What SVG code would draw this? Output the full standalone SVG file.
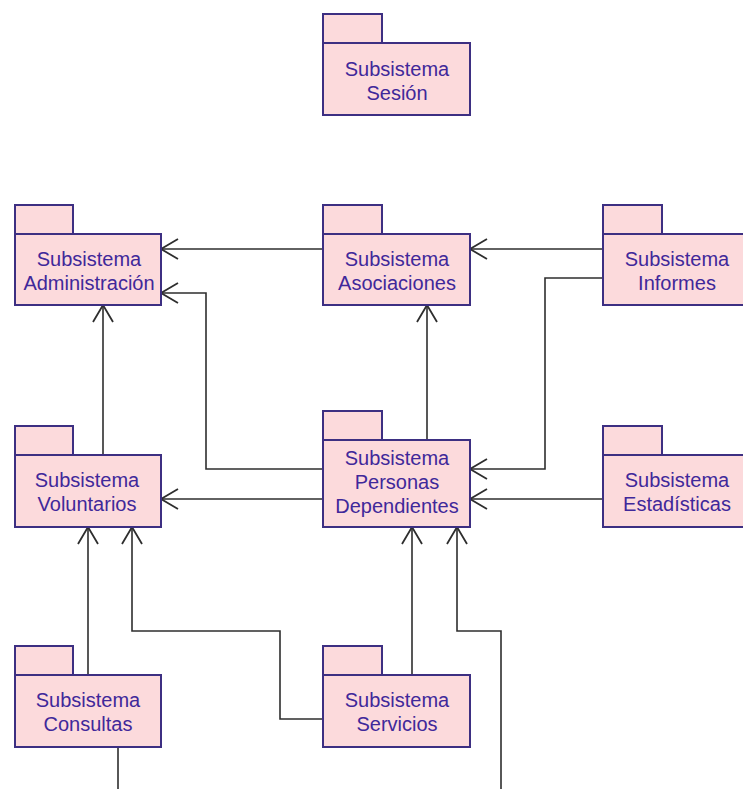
<svg xmlns="http://www.w3.org/2000/svg" width="743" height="789" viewBox="0 0 743 789">
  <style>
    .pkg rect { fill: #fcdadc; stroke: #3d2f82; stroke-width: 2; }
    .pkg text { font-family: "Liberation Sans", Arial, sans-serif; font-size: 20px; fill: #40289a; text-anchor: middle; }
    .conn path { fill: none; stroke: #2e2e2e; stroke-width: 1.6; marker-end: url(#open); }
  </style>
  <defs>
    <marker id="open" markerUnits="userSpaceOnUse" markerWidth="22" markerHeight="24" refX="0" refY="0" viewBox="-19 -12 22 24" orient="auto" overflow="visible">
      <path d="M-17,-10 L0,0 L-17,10" fill="none" stroke="#2e2e2e" stroke-width="1.8"/>
    </marker>
  </defs>
  <rect width="743" height="789" fill="#ffffff"/>

  <!-- dependency connectors -->
  <g id="connectors" class="conn">
    <path d="M323,249 H161"/>
    <path d="M323,469 H206 V293 H161"/>
    <path d="M603,249 H470"/>
    <path d="M603,278 H545 V469 H470"/>
    <path d="M427,440 V305"/>
    <path d="M103,455 V305"/>
    <path d="M323,499 H161"/>
    <path d="M603,499 H470"/>
    <path d="M88,675 V527"/>
    <path d="M323,719 H280 V631 H132 V527"/>
    <path d="M412,675 V527"/>
    <path d="M118,747 V830 H501 V631 H457 V527"/>
  </g>

  <!-- packages -->
  <g id="sesion" class="pkg">
    <rect x="323" y="14" width="59" height="29"/>
    <rect x="323" y="43" width="147" height="72"/>
    <text x="397" y="76">Subsistema</text>
    <text x="397" y="100">Sesión</text>
  </g>

  <g id="administracion" class="pkg">
    <rect x="15" y="205" width="58" height="29"/>
    <rect x="15" y="234" width="146" height="71"/>
    <text x="89" y="266">Subsistema</text>
    <text x="89" y="290">Administración</text>
  </g>

  <g id="asociaciones" class="pkg">
    <rect x="323" y="205" width="59" height="29"/>
    <rect x="323" y="234" width="147" height="71"/>
    <text x="397" y="266">Subsistema</text>
    <text x="397" y="290">Asociaciones</text>
  </g>

  <g id="informes" class="pkg">
    <rect x="603" y="205" width="59" height="29"/>
    <rect x="603" y="234" width="147" height="71"/>
    <text x="677" y="266">Subsistema</text>
    <text x="677" y="290">Informes</text>
  </g>

  <g id="voluntarios" class="pkg">
    <rect x="15" y="426" width="58" height="29"/>
    <rect x="15" y="455" width="146" height="72"/>
    <text x="87" y="487">Subsistema</text>
    <text x="87" y="511">Voluntarios</text>
  </g>

  <g id="personas-dependientes" class="pkg">
    <rect x="323" y="411" width="59" height="29"/>
    <rect x="323" y="440" width="147" height="87"/>
    <text x="397" y="465">Subsistema</text>
    <text x="397" y="489">Personas</text>
    <text x="397" y="513">Dependientes</text>
  </g>

  <g id="estadisticas" class="pkg">
    <rect x="603" y="426" width="59" height="29"/>
    <rect x="603" y="455" width="147" height="72"/>
    <text x="677" y="487">Subsistema</text>
    <text x="677" y="511">Estadísticas</text>
  </g>

  <g id="consultas" class="pkg">
    <rect x="15" y="646" width="58" height="29"/>
    <rect x="15" y="675" width="146" height="72"/>
    <text x="88" y="707">Subsistema</text>
    <text x="88" y="731">Consultas</text>
  </g>

  <g id="servicios" class="pkg">
    <rect x="323" y="646" width="59" height="29"/>
    <rect x="323" y="675" width="147" height="72"/>
    <text x="397" y="707">Subsistema</text>
    <text x="397" y="731">Servicios</text>
  </g>
</svg>
